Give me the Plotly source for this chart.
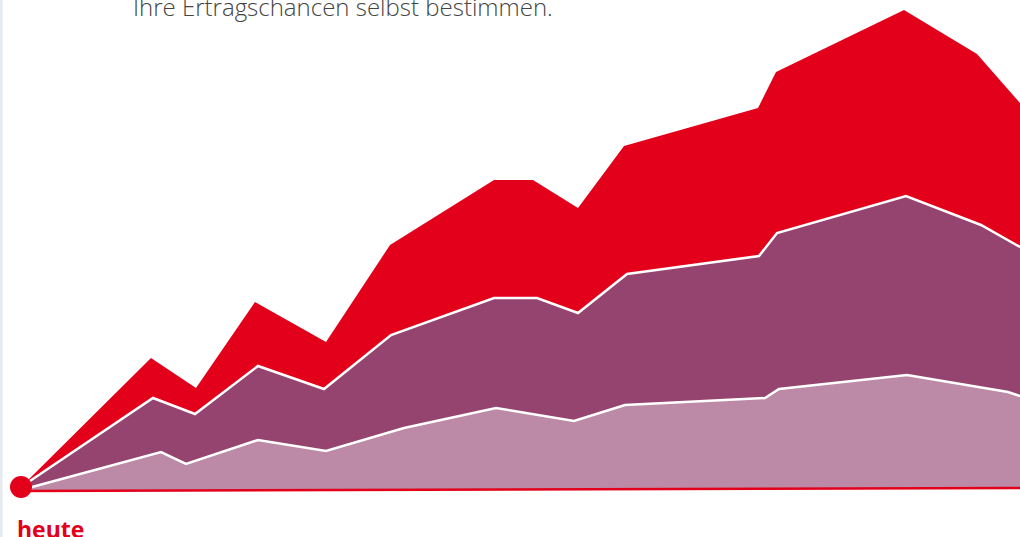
import plotly.graph_objects as go

# Values (x: time units, y: value units above baseline)
top_x = [0, 130, 175, 234, 305, 369, 473, 512, 557, 603, 737, 755, 883, 956, 999]
top_y = [3, 132, 102, 188, 148, 245, 310, 310, 282, 344, 382, 418, 480, 436, 387]

mid_x = [0, 132, 174, 237, 303, 370, 473, 516, 557, 606, 738, 756, 885, 960, 999]
mid_y = [3, 92, 76, 124, 101, 155, 192, 192, 177, 216, 234, 257, 294, 265, 243]

low_x = [0, 140, 165, 237, 305, 383, 475, 553, 604, 744, 758, 886, 987, 999]
low_y = [0, 38, 26, 50, 39, 62, 82, 69, 85, 92, 101, 115, 98, 94]

base_x = [0, 999]
base_y = [-1, 2]

RED = "#E2001A"
PURPLE = "#954470"
PINK = "#BC89A7"


def closed(xs, ys):
    return xs + [base_x[1], base_x[0]], ys + [base_y[1], base_y[0]]


fig = go.Figure()

cx, cy = closed(top_x, top_y)
fig.add_trace(go.Scatter(x=cx, y=cy, fill="toself", fillcolor=RED, mode="lines",
                         line=dict(color=RED, width=0), hoverinfo="skip", showlegend=False))
cx, cy = closed(mid_x, mid_y)
fig.add_trace(go.Scatter(x=cx, y=cy, fill="toself", fillcolor=PURPLE, mode="lines",
                         line=dict(color=PURPLE, width=0), hoverinfo="skip", showlegend=False))
fig.add_trace(go.Scatter(x=mid_x, y=mid_y, mode="lines", line=dict(color="white", width=2.5),
                         hoverinfo="skip", showlegend=False))
cx, cy = closed(low_x, low_y)
fig.add_trace(go.Scatter(x=cx, y=cy, fill="toself", fillcolor=PINK, mode="lines",
                         line=dict(color=PINK, width=0), hoverinfo="skip", showlegend=False))
fig.add_trace(go.Scatter(x=low_x, y=low_y, mode="lines", line=dict(color="white", width=2.5),
                         hoverinfo="skip", showlegend=False))
fig.add_trace(go.Scatter(x=base_x, y=base_y, mode="lines", line=dict(color=RED, width=2.5),
                         hoverinfo="skip", showlegend=False))
fig.add_trace(go.Scatter(x=[0], y=[3], mode="markers", marker=dict(color=RED, size=22),
                         hoverinfo="skip", showlegend=False))

fig.add_shape(type="rect", xref="paper", yref="paper", x0=0, x1=0.0025, y0=0, y1=1,
              fillcolor="#E6EBEF", line=dict(width=0), layer="above")

fig.add_annotation(text="heute", xref="paper", yref="paper", x=15 / 1020, y=1 - 528.5 / 537,
                   xanchor="left", yanchor="middle", showarrow=False,
                   font=dict(family="Open Sans", size=23, color=RED, weight="bold"))
fig.add_annotation(text="Ihre Ertragschancen selbst bestimmen.", xref="paper", yref="paper",
                   x=131 / 1020, y=1 - 6.5 / 537, xanchor="left", yanchor="middle", showarrow=False,
                   font=dict(family="Open Sans", size=24, color="#444444", weight=300))

fig.update_layout(
    width=1020, height=537,
    margin=dict(l=0, r=0, t=0, b=0),
    paper_bgcolor="white", plot_bgcolor="white",
    xaxis=dict(range=[-21, 999], visible=False, fixedrange=True),
    yaxis=dict(range=[-47, 490], visible=False, fixedrange=True),
    showlegend=False,
)

fig.write_html(
    "out.html",
    config={"displayModeBar": False},
    post_script="document.body.style.margin='0';document.body.style.overflow='hidden';",
)
